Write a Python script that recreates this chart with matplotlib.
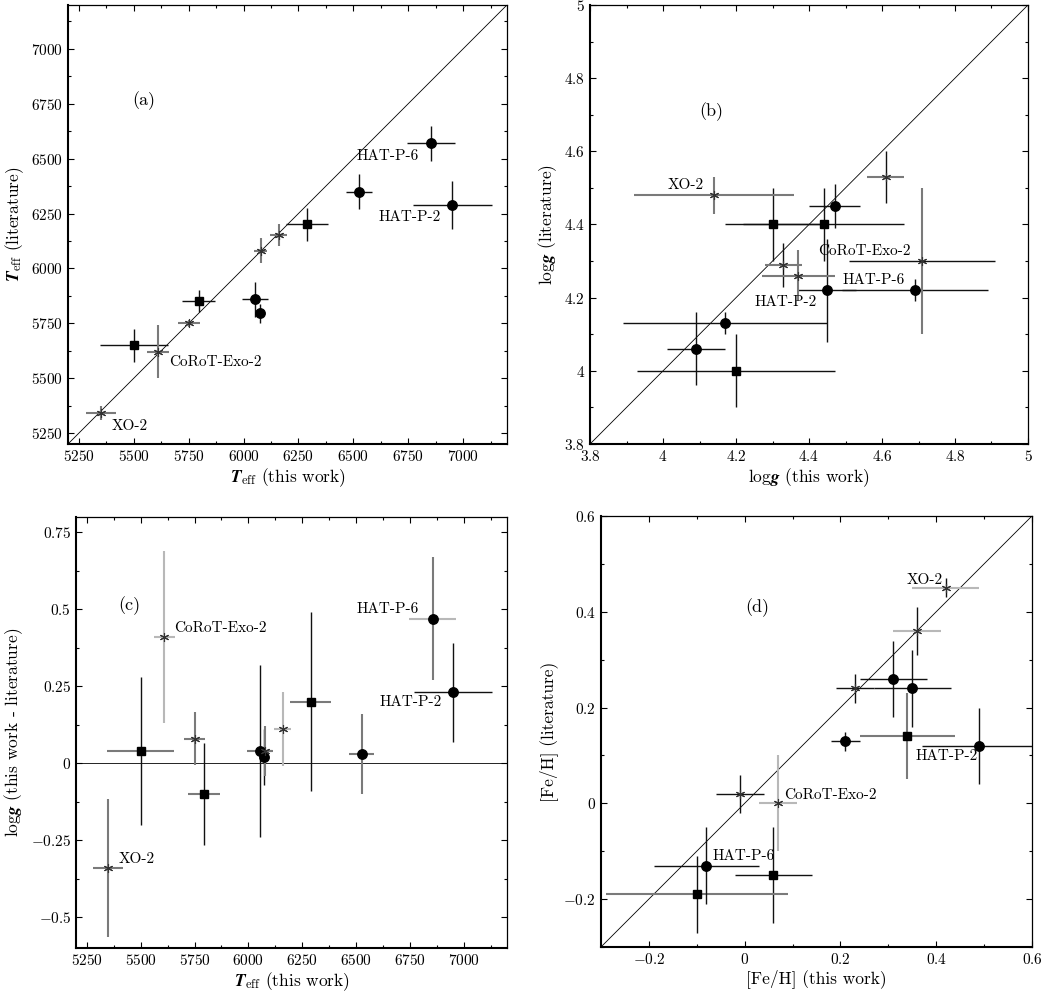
import matplotlib

matplotlib.use("Agg")

import matplotlib.pyplot as plt
from matplotlib.ticker import FuncFormatter, MultipleLocator

# Star order used for panels (a)-(c): three squares, five circles, five asterisks.
KINDS = ["s", "s", "s", "o", "o", "o", "o", "o", "*", "*", "*", "*", "*"]

# (a) Teff this work vs literature
teff_this = [5500, 5795, 6290, 6052, 6073, 6525, 6855, 6950, 5350, 5610, 5750, 6078, 6160]
teff_this_err = [155, 75, 95, 60, 20, 60, 110, 180, 70, 50, 50, 30, 40]
teff_lit = [5650, 5850, 6200, 5860, 5795, 6350, 6570, 6290, 5340, 5620, 5750, 6080, 6150]
teff_lit_err = [75, 50, 76, 80, 43, 80, 80, 110, 32, 120, 15, 57, 50]

# (b) log g this work vs literature
logg_this = [4.44, 4.30, 4.20, 4.17, 4.47, 4.09, 4.69, 4.45, 4.14, 4.71, 4.61, 4.33, 4.37]
logg_this_err = [0.22, 0.13, 0.27, 0.28, 0.07, 0.08, 0.20, 0.08, 0.22, 0.20, 0.05, 0.05, 0.10]
logg_lit = [4.40, 4.40, 4.00, 4.13, 4.45, 4.06, 4.22, 4.22, 4.48, 4.30, 4.53, 4.29, 4.26]
logg_lit_err = [0.10, 0.10, 0.10, 0.03, 0.06, 0.10, 0.03, 0.14, 0.05, 0.20, 0.07, 0.06, 0.07]

# (c) log g difference vs Teff this work
dlogg = [0.04, -0.10, 0.20, 0.04, 0.02, 0.03, 0.47, 0.23, -0.34, 0.41, 0.08, 0.04, 0.11]
dlogg_err = [0.24, 0.165, 0.29, 0.28, 0.09, 0.13, 0.20, 0.16, 0.225, 0.28, 0.085, 0.08, 0.12]

# (d) [Fe/H] this work vs literature (own order)
feh_kinds = ["s", "s", "s", "o", "o", "o", "o", "o", "*", "*", "*", "*", "*"]
feh_this = [0.34, 0.06, -0.10, 0.31, 0.35, 0.21, 0.49, -0.08, 0.42, 0.36, 0.23, -0.01, 0.07]
feh_this_err = [0.10, 0.08, 0.19, 0.07, 0.08, 0.03, 0.12, 0.11, 0.07, 0.05, 0.04, 0.05, 0.04]
feh_lit = [0.14, -0.15, -0.19, 0.26, 0.24, 0.13, 0.12, -0.13, 0.45, 0.36, 0.24, 0.02, 0.00]
feh_lit_err = [0.09, 0.10, 0.08, 0.08, 0.08, 0.02, 0.08, 0.08, 0.02, 0.05, 0.03, 0.04, 0.10]

# error-bar shades (x bar, y bar) per point
K, G, L = "#111111", "#7a7a7a", "#b8b8b8"
a_cols = [(K, K)] * 8 + [(G, G)] * 5
b_cols = [(K, K)] * 8 + [(G, G), (K, G), (G, K), (G, K), (G, G)]
c_cols = [(G, K), (G, K), (G, K), (G, K), (K, K), (G, G), (L, G), (K, K),
          (G, G), (L, L), (G, G), (G, G), (L, L)]
d_cols = [(G, G), (K, K), (G, K), (K, K), (K, K), (K, K), (K, K), (K, K),
          (L, K), (L, K), (K, K), (K, K), (L, L)]

plt.rcParams["font.family"] = ["cmr10", "DejaVu Serif"]
plt.rcParams["mathtext.fontset"] = "cm"
plt.rcParams["axes.formatter.use_mathtext"] = True
plt.rcParams["font.size"] = 11

TEFF = r"$\mathbfit{T}_{\rm eff}$"
LOGG = r"log$\mathbfit{g}$"

fig = plt.figure(figsize=(10.41, 9.96), dpi=100)
ax_a = fig.add_axes([0.0653, 0.5542, 0.4217, 0.4408])
ax_b = fig.add_axes([0.5668, 0.5542, 0.4207, 0.4408])
ax_c = fig.add_axes([0.0730, 0.0482, 0.4140, 0.4327])
ax_d = fig.add_axes([0.5773, 0.0492, 0.4140, 0.4327])

fmt = FuncFormatter(lambda v, _: f"${v:g}$")


def style(ax, xlim, ylim, xmaj, ymaj):
    ax.set_xlim(xlim)
    ax.set_ylim(ylim)
    ax.xaxis.set_major_locator(MultipleLocator(xmaj))
    ax.yaxis.set_major_locator(MultipleLocator(ymaj))
    ax.xaxis.set_minor_locator(MultipleLocator(xmaj / 2))
    ax.yaxis.set_minor_locator(MultipleLocator(ymaj / 2))
    ax.xaxis.set_major_formatter(fmt)
    ax.yaxis.set_major_formatter(fmt)
    ax.tick_params(which="both", direction="in", top=True, right=True, labelsize=11)
    ax.tick_params(which="major", length=4, width=0.8)
    ax.tick_params(which="minor", length=2.5, width=0.8)
    for name, sp in ax.spines.items():
        sp.set_linewidth(1.5 if name in ("left", "bottom") else 0.9)


def draw(ax, xs, ys, xe, ye, kinds, cols):
    for x, y, ex, ey, k, (cx, cy) in zip(xs, ys, xe, ye, kinds, cols):
        ax.errorbar(x, y, xerr=ex, fmt="none", ecolor=cx,
                    elinewidth=1.5 if cx != K else 1.0, capsize=0, zorder=3)
        ax.errorbar(x, y, yerr=ey, fmt="none", ecolor=cy,
                    elinewidth=1.5 if cy != K else 1.0, capsize=0, zorder=3)
        if k == "o":
            ax.plot(x, y, "o", ms=6.8, color="black", zorder=5)
        elif k == "s":
            ax.plot(x, y, "s", ms=5.8, color="black", zorder=5)
        else:
            ax.plot(x, y, marker=(6, 2, 0), ms=6.5, color="#333333",
                    mew=0.8, linestyle="none", zorder=5)


# (a)
style(ax_a, (5200, 7200), (5200, 7200), 250, 250)
ax_a.plot([5200, 7200], [5200, 7200], color="black", lw=0.6, zorder=2)
draw(ax_a, teff_this, teff_lit, teff_this_err, teff_lit_err, KINDS, a_cols)
ax_a.set_xlabel(TEFF + " (this work)", fontsize=12.5, labelpad=2)
ax_a.set_ylabel(TEFF + " (literature)", fontsize=12.5, labelpad=4)
ax_a.text(5546, 6765, "(a)", ha="center", va="center", fontsize=13)
ax_a.text(6800, 6512, "HAT-P-6", ha="right", va="center")
ax_a.text(6615, 6235, "HAT-P-2", ha="left", va="center")
ax_a.text(5660, 5571, "CoRoT-Exo-2", ha="left", va="center")
ax_a.text(5398, 5283, "XO-2", ha="left", va="center")

# (b)
style(ax_b, (3.8, 5.0), (3.8, 5.0), 0.2, 0.2)
ax_b.plot([3.8, 5.0], [3.8, 5.0], color="black", lw=0.6, zorder=2)
draw(ax_b, logg_this, logg_lit, logg_this_err, logg_lit_err, KINDS, b_cols)
ax_b.set_xlabel(LOGG + " (this work)", fontsize=12.5, labelpad=2)
ax_b.set_ylabel(LOGG + " (literature)", fontsize=12.5, labelpad=4)
ax_b.text(4.131, 4.708, "(b)", ha="center", va="center", fontsize=13)
ax_b.text(4.012, 4.507, "XO-2", ha="left", va="center")
ax_b.text(4.424, 4.327, "CoRoT-Exo-2", ha="left", va="center")
ax_b.text(4.492, 4.247, "HAT-P-6", ha="left", va="center")
ax_b.text(4.252, 4.188, "HAT-P-2", ha="left", va="center")

# (c)
style(ax_c, (5200, 7200), (-0.6, 0.8), 250, 0.25)
ax_c.axhline(0, color="black", lw=0.6, zorder=2)
draw(ax_c, teff_this, dlogg, teff_this_err, dlogg_err, KINDS, c_cols)
ax_c.set_xlabel(TEFF + " (this work)", fontsize=12.5, labelpad=2)
ax_c.set_ylabel(LOGG + " (this work - literature)", fontsize=12.5, labelpad=4)
ax_c.text(5446, 0.512, "(c)", ha="center", va="center", fontsize=13)
ax_c.text(5657, 0.439, "CoRoT-Exo-2", ha="left", va="center")
ax_c.text(6792, 0.501, "HAT-P-6", ha="right", va="center")
ax_c.text(6610, 0.200, "HAT-P-2", ha="left", va="center")
ax_c.text(5400, -0.312, "XO-2", ha="left", va="center")

# (d)
style(ax_d, (-0.3, 0.6), (-0.3, 0.6), 0.2, 0.2)
ax_d.plot([-0.3, 0.6], [-0.3, 0.6], color="black", lw=0.6, zorder=2)
draw(ax_d, feh_this, feh_lit, feh_this_err, feh_lit_err, feh_kinds, d_cols)
ax_d.set_xlabel("[Fe/H] (this work)", fontsize=12.5, labelpad=2)
ax_d.set_ylabel("[Fe/H] (literature)", fontsize=12.5, labelpad=4)
ax_d.text(0.026, 0.408, "(d)", ha="center", va="center", fontsize=13)
ax_d.text(0.338, 0.467, "XO-2", ha="left", va="center")
ax_d.text(0.082, 0.017, "CoRoT-Exo-2", ha="left", va="center")
ax_d.text(-0.066, -0.111, "HAT-P-6", ha="left", va="center")
ax_d.text(0.357, 0.098, "HAT-P-2", ha="left", va="center")

fig.savefig("out.png", dpi=100, facecolor="white")
